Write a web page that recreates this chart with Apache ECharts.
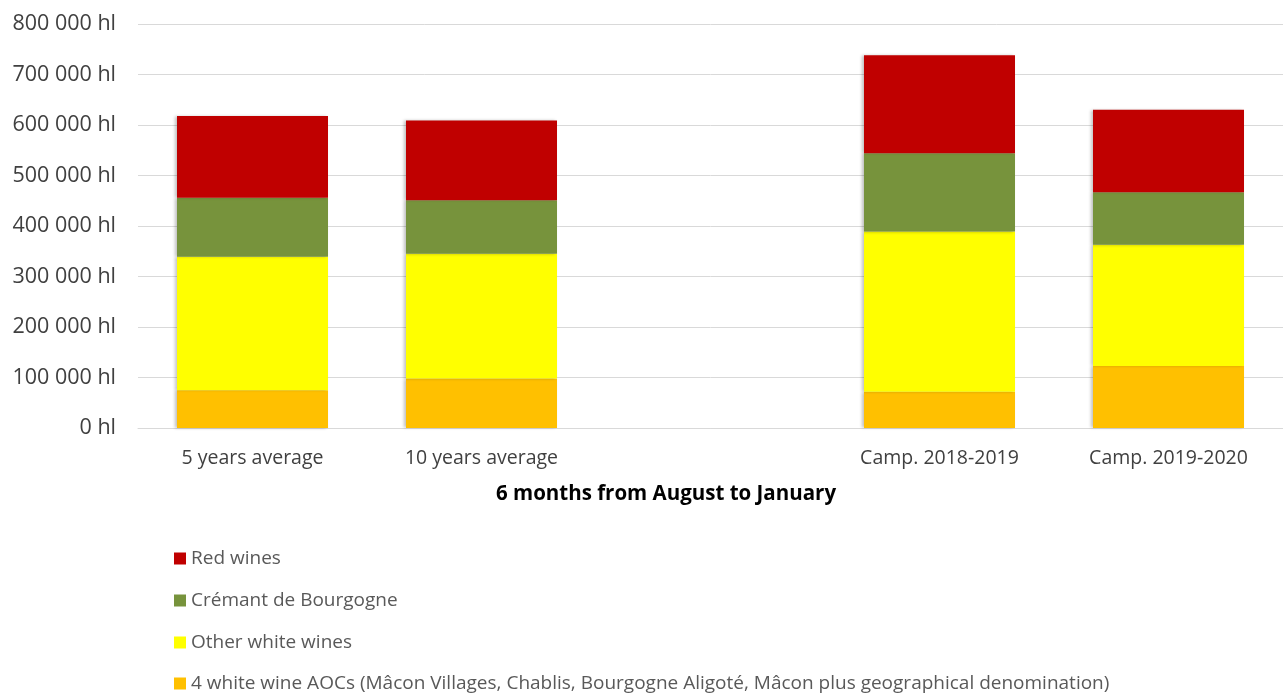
<!DOCTYPE html>
<html>
<head>
<meta charset="utf-8">
<script src="https://cdn.jsdelivr.net/npm/echarts@6/dist/echarts.min.js"></script>
<style>
html,body{margin:0;padding:0;background:#fff;}
#chart{width:1283px;height:695px;}
</style>
</head>
<body>
<div id="chart"></div>
<script>
const categories = ['5 years average', '10 years average', '', 'Camp. 2018-2019', 'Camp. 2019-2020'];
const seriesNames = ['4 white wine AOCs (Mâcon Villages, Chablis, Bourgogne Aligoté, Mâcon plus geographical denomination)', 'Other white wines', 'Crémant de Bourgogne', 'Red wines'];
const whiteAOCs = [75000, 98000, null, 72000, 123000];
const otherWhite = [264000, 247000, null, 317000, 240000];
const cremant = [117000, 106000, null, 155000, 104000];
const redWines = [162000, 158000, null, 194000, 163000];
const legendOrder = ['Red wines', 'Crémant de Bourgogne', 'Other white wines', seriesNames[0]];
const colors = ['#FFC000', '#FFFF00', '#77933C', '#C00000'];
const axisTitle = '6 months from August to January';

const font = 'Open Sans';
const values = [whiteAOCs, otherWhite, cremant, redWines];
const legendTops = [549, 591, 633, 674];

const chart = echarts.init(document.getElementById('chart'), null, {renderer: 'canvas'});
chart.setOption({
  animation: false,
  backgroundColor: '#ffffff',
  title: {
    text: axisTitle,
    left: 666, top: 484, textAlign: 'center', padding: 0,
    textStyle: {fontFamily: font, fontSize: 20.5, fontWeight: 'bold', color: '#000000'}
  },
  legend: legendOrder.map((name, i) => ({
    orient: 'vertical', left: 174, top: legendTops[i], padding: 0,
    itemWidth: 12, itemHeight: 12, itemTextGap: 6,
    icon: 'rect',
    data: [name],
    textStyle: {fontFamily: font, fontSize: 19, lineHeight: 18, color: '#595959'}
  })),
  grid: {left: 138, right: 0, top: 24, bottom: 267, containLabel: false},
  xAxis: {
    type: 'category', data: categories,
    axisLine: {lineStyle: {color: '#d9d9d9', width: 1}},
    axisTick: {show: false},
    axisLabel: {fontFamily: font, fontSize: 19.5, color: '#404040', margin: 20}
  },
  yAxis: {
    type: 'value', min: 0, max: 800000, interval: 100000,
    axisLine: {show: false}, axisTick: {show: false},
    splitLine: {lineStyle: {color: '#d9d9d9', width: 1}},
    axisLabel: {
      fontFamily: font, fontSize: 21.5, color: '#404040', margin: 22,
      formatter: v => (v === 0 ? '0' : String(v).replace(/\B(?=(\d{3})+(?!\d))/g, ' ')) + ' hl'
    }
  },
  series: seriesNames.map((name, i) => ({
    name, type: 'bar', stack: 'total', barWidth: 151,
    data: values[i],
    itemStyle: {color: colors[i], shadowColor: 'rgba(0,0,0,0.25)', shadowBlur: 3, shadowOffsetX: -2},
    emphasis: {disabled: true}
  }))
});
</script>
</body>
</html>
